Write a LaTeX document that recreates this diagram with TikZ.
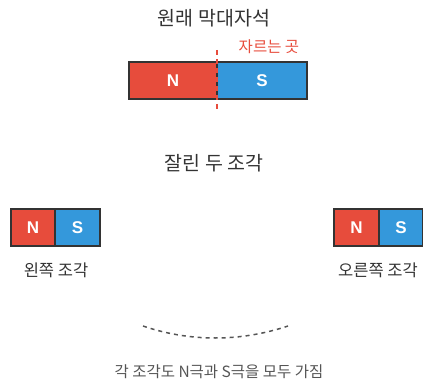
\documentclass[tikz,border=0pt]{standalone}
\usepackage{fontspec}
\setmainfont{Noto Sans CJK KR}
\newfontfamily\latinbold{Liberation Sans}
\definecolor{nred}{HTML}{E74C3C}
\definecolor{sblue}{HTML}{3498DB}
\definecolor{edge}{HTML}{333333}
\definecolor{txt}{HTML}{333333}
\definecolor{cutred}{HTML}{E74C3C}
\definecolor{note}{HTML}{555555}
\begin{document}
\begin{tikzpicture}[x=1pt,y=-1pt,
  pole/.style={draw=edge,line width=2pt,minimum height=37pt,inner sep=0pt,text=white,font=\latinbold\bfseries\fontsize{17}{17}\selectfont},
  npole/.style={pole,fill=nred},
  spole/.style={pole,fill=sblue},
  title/.style={text=txt,font=\fontsize{19.5}{19.5}\selectfont},
  lab/.style={text=txt,font=\fontsize{16.5}{16.5}\selectfont}]
\useasboundingbox (0,0) rectangle (423,385);
% original bar
\node[title] (t1) at (214,18) {원래 막대자석};
\node[npole,minimum width=88pt] (bn) at (173,80.5) {N};
\node[spole,minimum width=90pt] (bs) at (262,80.5) {S};
\coordinate (c1) at (217,50);
\coordinate (c2) at (217,109);
\draw[cutred,line width=2.5pt,dash pattern=on 5pt off 4pt] (c1) -- (c2);
\node[text=cutred,font=\fontsize{15.5}{15.5}\selectfont] (cut) at (269,47) {자르는 곳};
% pieces
\node[title] (t2) at (214,163) {잘린 두 조각};
\node[npole,minimum width=44pt] (ln) at (33,227.5) {N};
\node[spole,minimum width=45pt] (ls) at (77.5,227.5) {S};
\node[lab] (ll) at (56,270) {왼쪽 조각};
\node[npole,minimum width=45pt] (rn) at (356.5,227.5) {N};
\node[spole,minimum width=44pt] (rs) at (401,227.5) {S};
\node[lab] (rl) at (378,270) {오른쪽 조각};
% arc
\coordinate (a1) at (143,326);
\coordinate (a2) at (288,326);
\draw[note,line width=1.5pt,dash pattern=on 4pt off 4pt] (a1) .. controls (190,342) and (240,342) .. (a2);
\node[text=note,font=\fontsize{15.5}{15.5}\selectfont] (bt) at (219,372) {각 조각도 N극과 S극을 모두 가짐};
\end{tikzpicture}
\end{document}
